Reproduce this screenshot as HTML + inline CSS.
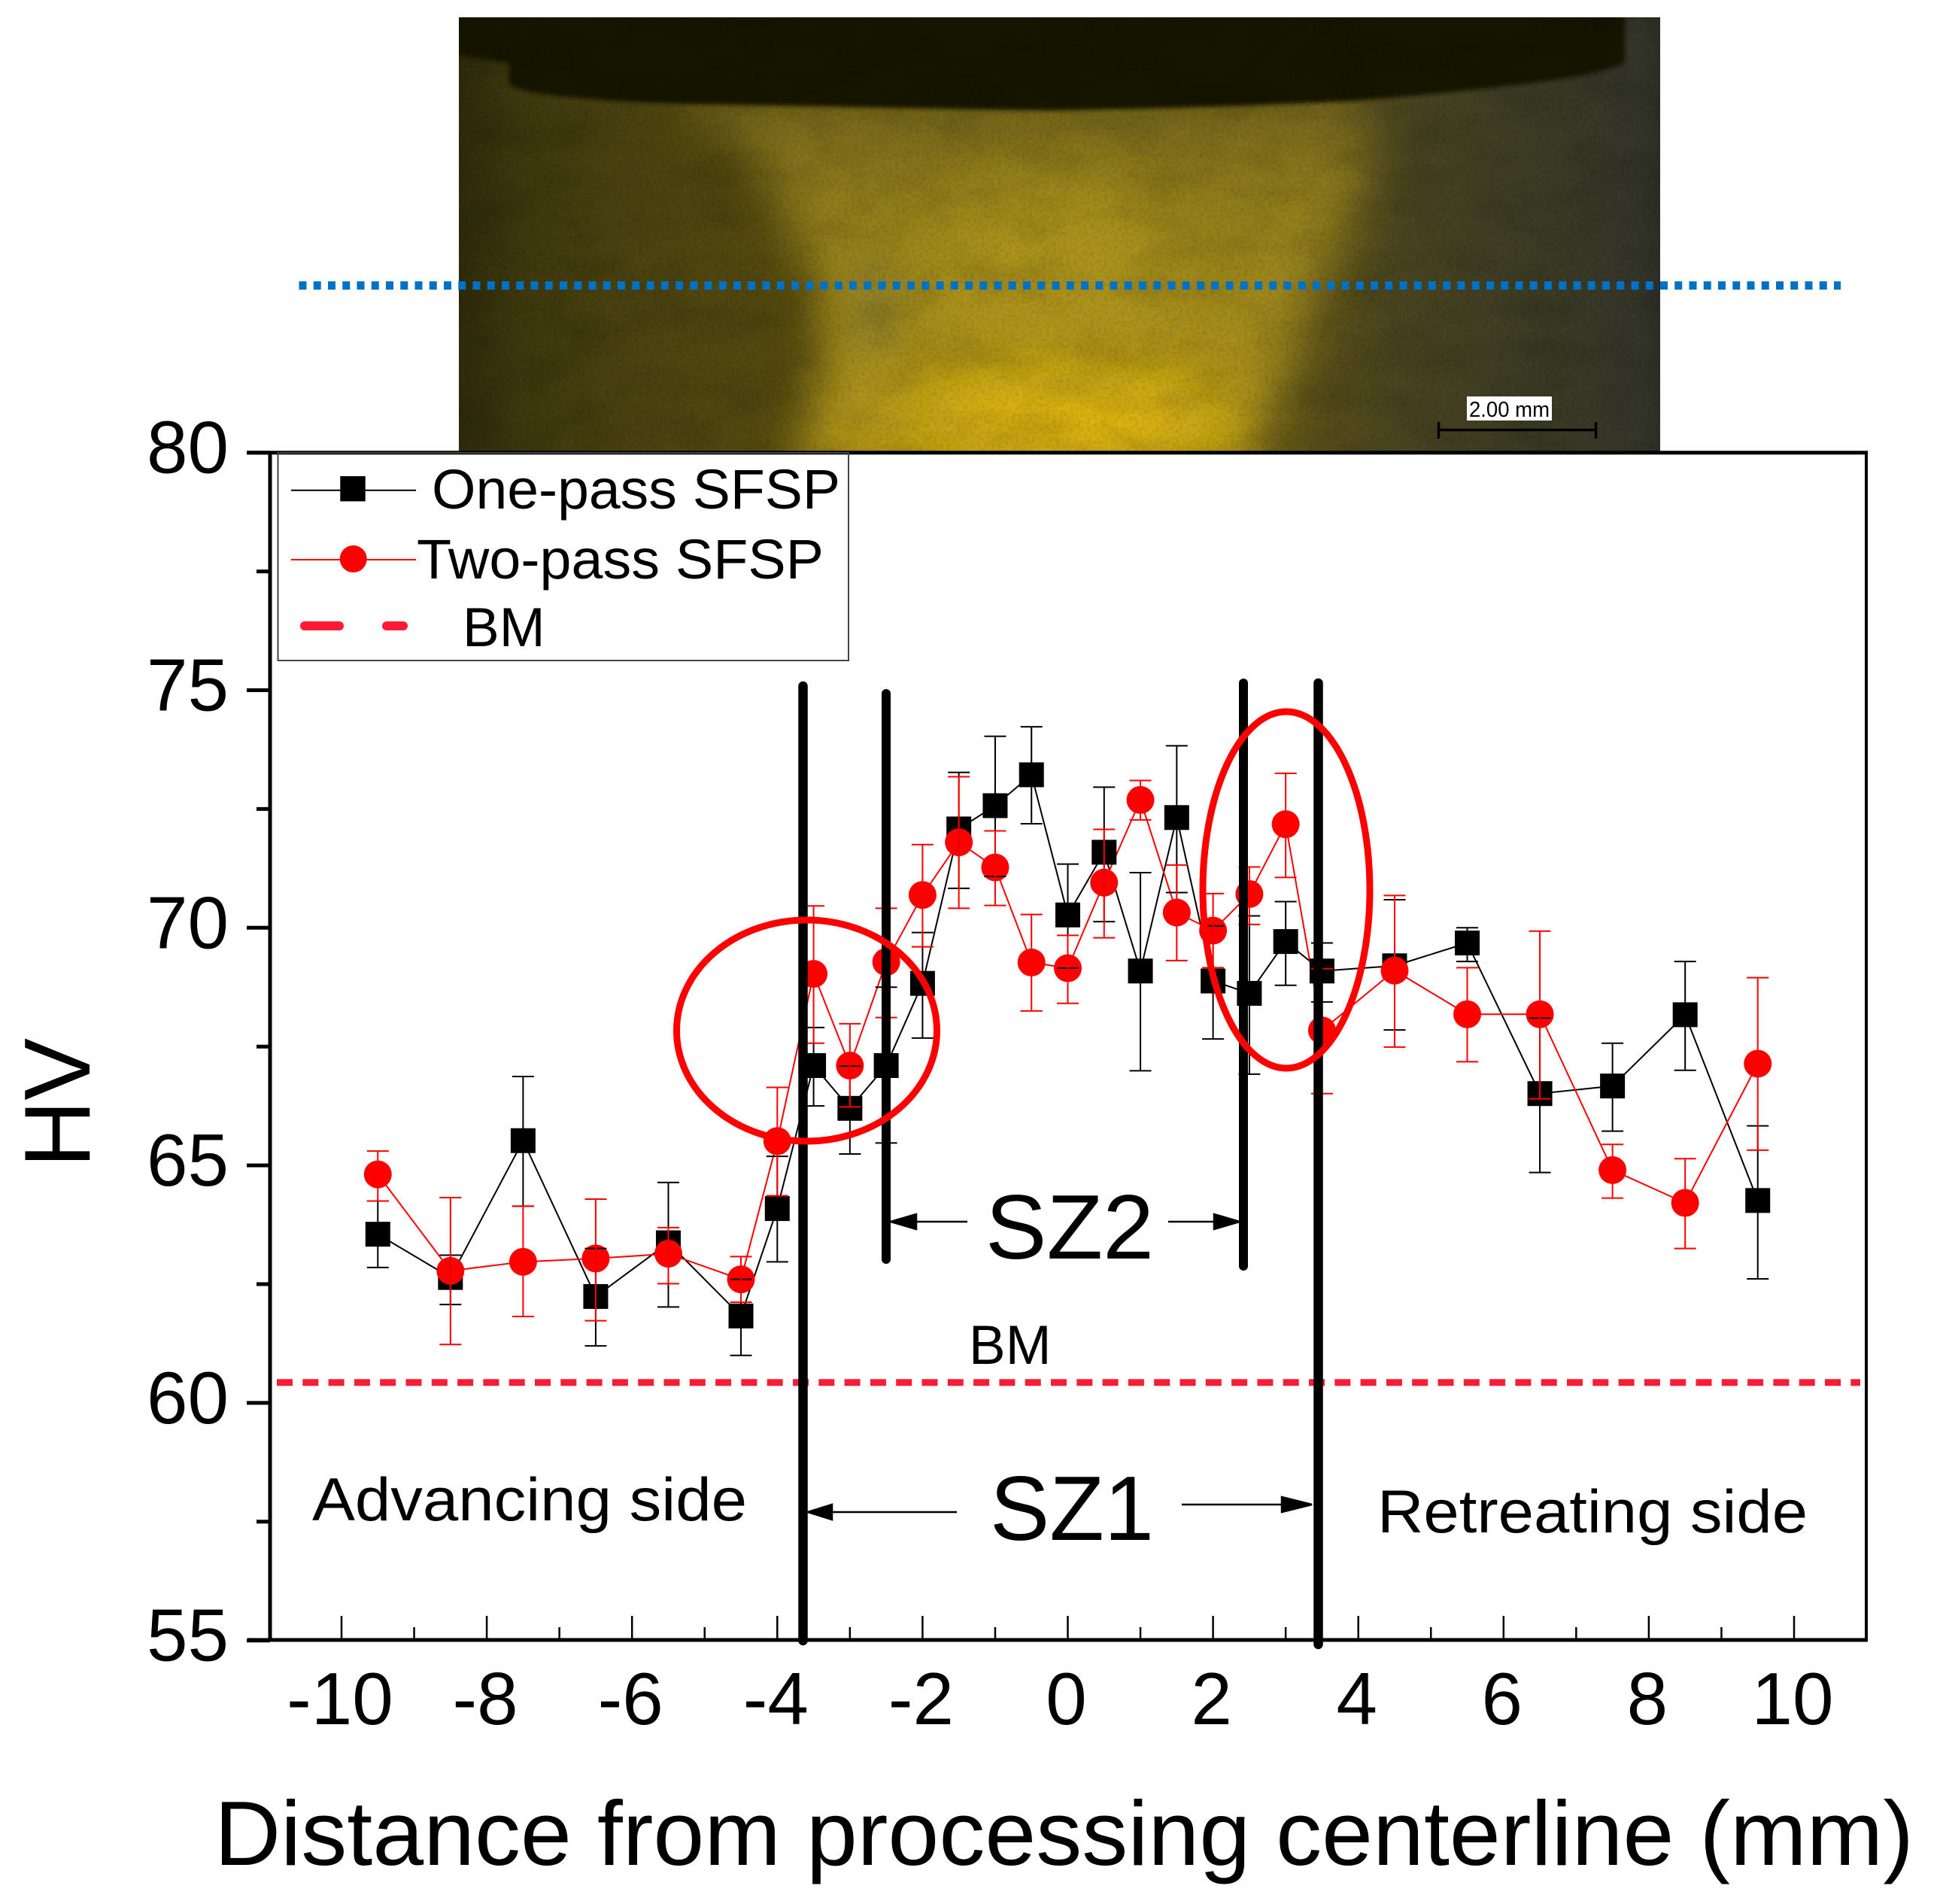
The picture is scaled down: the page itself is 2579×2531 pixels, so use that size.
<!DOCTYPE html>
<html lang="en">
<head>
<meta charset="utf-8">
<title>Hardness profile across processing centerline</title>
<style>
  html, body { margin: 0; padding: 0; background: #fff; }
  body { width: 2579px; height: 2531px; overflow: hidden; }
  svg { display: block; }
  text { font-family: "Liberation Sans", Arial, sans-serif; fill: #000; }
</style>
</head>
<body>
<svg id="chart" xmlns="http://www.w3.org/2000/svg" width="2579" height="2531" viewBox="0 0 2579 2531">
  <defs>
    <linearGradient id="photoBase" x1="0" y1="0" x2="1" y2="0">
      <stop offset="0" stop-color="#2f2c0c"/>
      <stop offset="0.05" stop-color="#3d380e"/>
      <stop offset="0.15" stop-color="#4c4410"/>
      <stop offset="0.27" stop-color="#544a10"/>
      <stop offset="0.5" stop-color="#5e5212"/>
      <stop offset="0.72" stop-color="#574e1a"/>
      <stop offset="0.78" stop-color="#4a4520"/>
      <stop offset="0.88" stop-color="#3e3d24"/>
      <stop offset="0.98" stop-color="#35362a"/>
      <stop offset="1" stop-color="#2e3028"/>
    </linearGradient>
    <linearGradient id="zoneFill" x1="0" y1="0" x2="0" y2="1">
      <stop offset="0" stop-color="#75661a"/>
      <stop offset="0.3" stop-color="#94801a"/>
      <stop offset="0.65" stop-color="#a88f1c"/>
      <stop offset="1" stop-color="#b89a18"/>
    </linearGradient>
    <filter id="blur30" x="-20%" y="-30%" width="140%" height="160%"><feGaussianBlur stdDeviation="32"/></filter>
    <filter id="blur18" x="-60%" y="-60%" width="220%" height="220%"><feGaussianBlur stdDeviation="18"/></filter>
    <filter id="blur40" x="-40%" y="-60%" width="180%" height="220%"><feGaussianBlur stdDeviation="40"/></filter>
    <filter id="blur2" x="-5%" y="-5%" width="110%" height="110%"><feGaussianBlur stdDeviation="3"/></filter>
    <filter id="grain" x="0" y="0" width="100%" height="100%">
      <feTurbulence type="fractalNoise" baseFrequency="0.22" numOctaves="3" seed="4"/>
      <feColorMatrix type="matrix" values="0 0 0 0 0  0 0 0 0 0  0 0 0 0 0  1.6 0 0 0 -0.62"/>
    </filter>
    <filter id="mottle" x="0" y="0" width="100%" height="100%">
      <feTurbulence type="fractalNoise" baseFrequency="0.012 0.02" numOctaves="3" seed="11"/>
      <feColorMatrix type="matrix" values="0 0 0 0 0  0 0 0 0 0  0 0 0 0 0  2.4 0 0 0 -0.95"/>
    </filter>
    <clipPath id="photoClip"><rect x="610" y="23" width="1597" height="578"/></clipPath>
  </defs>

  <g clip-path="url(#photoClip)">
    <rect x="610" y="23" width="1597" height="578" fill="url(#photoBase)"/>
    <path filter="url(#blur30)" fill="url(#zoneFill)" d="M880 130 L1810 130 L1815 260 L1740 400 L1660 640 L1060 640 L1100 440 L1065 320 L1000 200 Z"/>
    <ellipse filter="url(#blur40)" cx="1400" cy="370" rx="160" ry="130" fill="#b0961e" opacity="0.8"/>
    <ellipse filter="url(#blur18)" cx="1165" cy="410" rx="34" ry="70" fill="#7c7630" opacity="0.45"/>
    <ellipse filter="url(#blur40)" cx="1420" cy="555" rx="210" ry="55" fill="#e2b810"/>
    <path filter="url(#blur2)" fill="#171200" d="M600 15 L600 72 L640 78 L677 84 L677 113 Q700 124 755 129 Q830 136 910 138 L1395 147 L1530 144 Q1680 140 1798 134 Q1950 122 2046 109 Q2130 98 2160 84 L2160 15 Z"/>
    <rect x="610" y="23" width="1597" height="578" filter="url(#mottle)" opacity="0.09"/>
    <rect x="610" y="23" width="1597" height="578" filter="url(#grain)" opacity="0.13"/>
  </g>
  <line x1="397.5" y1="379.5" x2="2447" y2="379.5" stroke="#0072c6" stroke-width="11" stroke-dasharray="10 9.25"/>

  <g>
    <rect x="1950" y="527" width="113" height="32" fill="#fff"/>
    <text x="1953" y="554" font-size="29" textLength="107" lengthAdjust="spacingAndGlyphs">2.00 mm</text>
    <path d="M1912 571.5 H2122 M1912.5 561 V583 M2121.5 561 V583" stroke="#000" stroke-width="3.5" fill="none"/>
  </g>

  <g id="axes"></g>
  <g id="plot"></g>

  <g>
    <line x1="1067.5" y1="912" x2="1067.5" y2="2181" stroke="#000" stroke-width="12.5" stroke-linecap="round"/>
    <line x1="1178" y1="922" x2="1178" y2="1674" stroke="#000" stroke-width="12" stroke-linecap="round"/>
    <line x1="1653" y1="908" x2="1653" y2="1683" stroke="#000" stroke-width="12" stroke-linecap="round"/>
    <line x1="1752.5" y1="908" x2="1752.5" y2="2186" stroke="#000" stroke-width="12.5" stroke-linecap="round"/>

    <ellipse cx="1072.5" cy="1370" rx="173" ry="147" fill="none" stroke="#f00" stroke-width="9"/>
    <ellipse cx="1710" cy="1183" rx="111" ry="237" fill="none" stroke="#f00" stroke-width="9"/>

    <path d="M1286 1624 H1210 M1184 1624 L1218 1614 V1634 Z" stroke="#000" stroke-width="2.5" fill="#000"/>
    <path d="M1553 1624 H1620 M1648 1624 L1614 1614 V1634 Z" stroke="#000" stroke-width="2.5" fill="#000"/>
    <path d="M1272 2010 H1100 M1074 2010 L1106 2000 V2020 Z" stroke="#000" stroke-width="2.5" fill="#000"/>
    <path d="M1571 2000 H1720 M1744 2000 L1704 1990 V2010 Z" stroke="#000" stroke-width="2.5" fill="#000"/>

    <text x="1310" y="1673" font-size="122" textLength="224" lengthAdjust="spacingAndGlyphs">SZ2</text>
    <text x="1316" y="2047" font-size="122" textLength="218" lengthAdjust="spacingAndGlyphs">SZ1</text>
    <text x="1288" y="1813" font-size="73">BM</text>
    <text x="415" y="2021" font-size="81" textLength="578" lengthAdjust="spacingAndGlyphs">Advancing side</text>
    <text x="1831" y="2037" font-size="81" textLength="572" lengthAdjust="spacingAndGlyphs">Retreating side</text>
  </g>

  <g>
    <rect x="369.5" y="602" width="758.5" height="276" fill="none" stroke="#444" stroke-width="2"/>
    <g>
      <line x1="387" y1="651.7" x2="553" y2="651.7" stroke="#000" stroke-width="2"/>
      <rect x="452.3" y="633" width="33.4" height="33.4" fill="#000"/>
      <text x="574" y="676" font-size="74" textLength="543" lengthAdjust="spacingAndGlyphs">One-pass SFSP</text>
    </g>
    <g>
      <line x1="387" y1="744" x2="553" y2="744" stroke="#f00" stroke-width="2"/>
      <circle cx="469.7" cy="743" r="18" fill="#f00"/>
      <text x="554" y="769" font-size="74" textLength="541" lengthAdjust="spacingAndGlyphs">Two-pass SFSP</text>
    </g>
    <g>
      <line x1="405" y1="832" x2="451" y2="832" stroke="#ff1a33" stroke-width="12" stroke-linecap="round"/>
      <line x1="514" y1="832" x2="536" y2="832" stroke="#ff1a33" stroke-width="12" stroke-linecap="round"/>
      <text x="615" y="859" font-size="73">BM</text>
    </g>
  </g>

  <text transform="translate(119 1466) rotate(-90)" text-anchor="middle" font-size="124">HV</text>
  <text x="285" y="2479" font-size="122" textLength="2259" lengthAdjust="spacingAndGlyphs">Distance from processing centerline (mm)</text>
</svg>

<script>
const distances = [-9.5,-8.5,-7.5,-6.5,-5.5,-4.5,-4,-3.5,-3,-2.5,-2,-1.5,-1,-0.5,0,0.5,1,1.5,2,2.5,3,3.5,4.5,5.5,6.5,7.5,8.5,9.5];

const onePassValues = [63.55,62.64,65.52,62.24,63.37,61.83,64.09,67.10,66.20,67.10,68.83,72.08,72.57,73.22,70.27,71.59,69.09,72.32,68.88,68.62,69.71,69.09,69.20,69.68,66.51,66.67,68.17,64.26];
const onePassUpper = [64.25,63.11,66.87,63.25,64.64,62.60,65.19,67.90,67.09,68.75,69.90,73.27,74.03,74.23,71.34,72.96,71.16,73.83,70.04,70.25,70.55,69.68,70.59,70.00,68.10,67.57,69.29,65.83];
const onePassLower = [62.85,62.07,64.14,61.20,62.02,61.00,62.97,66.25,65.24,65.47,67.68,70.83,71.08,72.19,69.15,70.13,66.99,70.74,67.66,66.92,68.79,68.44,67.85,69.29,64.85,65.72,67.00,62.61];

const twoPassValues = [64.81,62.78,62.97,63.04,63.14,62.60,65.51,69.03,67.10,69.28,70.69,71.80,71.27,69.27,69.15,70.95,72.69,70.32,69.94,70.71,72.18,67.84,69.10,68.18,68.18,64.90,64.21,67.14];
const twoPassUpper = [65.30,64.32,64.14,64.29,63.69,63.08,66.64,70.46,67.98,70.41,71.75,73.18,72.04,70.28,69.84,72.07,73.10,71.32,70.72,71.28,73.25,69.14,70.68,69.16,69.93,65.44,65.14,68.95];
const twoPassLower = [64.25,61.23,61.82,61.73,62.51,62.12,64.36,67.57,66.23,68.11,69.60,70.41,70.47,68.25,68.41,69.79,72.27,69.31,69.16,70.07,71.06,66.51,67.49,67.18,66.40,64.31,63.25,65.32];

const baseMetalLevel = [60.43];

const xMajorTicks = [-10,-8,-6,-4,-2,0,2,4,6,8,10];
const xMinorTicks = [-9,-7,-5,-3,-1,1,3,5,7,9];
const yMajorTicks = [55,60,65,70,75,80];
const yMinorTicks = [57.5,62.5,67.5,72.5,77.5];

const xScale = function (d) { return 1419.5 + d * 96.55; };
const yScale = function (v) { return 601.7 + (80 - v) * 63.16; };

const SVGNS = 'http://www.w3.org/2000/svg';
function make(parent, tag, attrs, content) {
  const node = document.createElementNS(SVGNS, tag);
  for (const key in attrs) node.setAttribute(key, attrs[key]);
  if (content !== undefined) node.textContent = content;
  parent.appendChild(node);
  return node;
}

const axes = document.getElementById('axes');
const plot = document.getElementById('plot');

/* axis frame */
let frame = make(axes, 'line', {x1: 329, y1: 601.7, x2: 2483, y2: 601.7, stroke: '#000', 'stroke-width': 5});


frame = make(axes, 'line', {x1: 329, y1: 2180, x2: 2483, y2: 2180, stroke: '#000', 'stroke-width': 5});


frame = make(axes, 'line', {x1: 359, y1: 600, x2: 359, y2: 2182, stroke: '#000', 'stroke-width': 5});


frame = make(axes, 'line', {x1: 2481, y1: 600, x2: 2481, y2: 2182, stroke: '#000', 'stroke-width': 4});



/* y ticks */
yMajorTicks.forEach(function (v) {
  const tick = make(axes, 'line', {x1: 328, y1: yScale(v), x2: 359, y2: yScale(v), stroke: '#000', 'stroke-width': 5});
  
  
  const label = make(axes, 'text', {x: 304, y: yScale(v) + 27, 'text-anchor': 'end', 'font-size': 98}, String(v));
  
  
});
yMinorTicks.forEach(function (v) {
  const tick = make(axes, 'line', {x1: 341, y1: yScale(v), x2: 359, y2: yScale(v), stroke: '#000', 'stroke-width': 5});
  
  
});

/* x ticks */
xMajorTicks.forEach(function (d) {
  const tick = make(axes, 'line', {x1: xScale(d), y1: 2180, x2: xScale(d), y2: 2148, stroke: '#000', 'stroke-width': 2.5});
  
  
  const label = make(axes, 'text', {x: xScale(d) - 2, y: 2292, 'text-anchor': 'middle', 'font-size': 98}, String(d));
  
  
});
xMinorTicks.forEach(function (d) {
  const tick = make(axes, 'line', {x1: xScale(d), y1: 2180, x2: xScale(d), y2: 2163, stroke: '#000', 'stroke-width': 2.5});
  
  
});

/* base metal reference */
const bmLine = make(plot, 'line', {x1: 368, y1: yScale(baseMetalLevel[0]), x2: 2473, y2: yScale(baseMetalLevel[0]), stroke: '#f81c35', 'stroke-width': 9, 'stroke-dasharray': '21 13.3'});



/* connecting lines */
function polyPoints(values) {
  return values.map(function (v, i) { return xScale(distances[i]) + ',' + yScale(v); }).join(' ');
}
const lineOne = make(plot, 'polyline', {points: polyPoints(onePassValues), fill: 'none', stroke: '#000', 'stroke-width': 2});


const lineTwo = make(plot, 'polyline', {points: polyPoints(twoPassValues), fill: 'none', stroke: '#f00', 'stroke-width': 2});



/* markers */
onePassValues.forEach(function (v, i) {
  const marker = make(plot, 'rect', {x: xScale(distances[i]) - 16.5, y: yScale(v) - 16.5, width: 33, height: 33, fill: '#000'});
  
  
});
twoPassValues.forEach(function (v, i) {
  const marker = make(plot, 'circle', {cx: xScale(distances[i]), cy: yScale(v), r: 18.5, fill: '#f00'});
  
  
});

/* error bars */
function errorPath(i, upper, lower) {
  const x = xScale(distances[i]);
  const t = yScale(upper[i]);
  const b = yScale(lower[i]);
  return 'M' + (x - 14.5) + ' ' + t + 'H' + (x + 14.5) + 'M' + x + ' ' + t + 'V' + b + 'M' + (x - 14.5) + ' ' + b + 'H' + (x + 14.5);
}
distances.forEach(function (d, i) {
  const bar = make(plot, 'path', {d: errorPath(i, onePassUpper, onePassLower), fill: 'none', stroke: '#000', 'stroke-width': 2});
  
  
});
distances.forEach(function (d, i) {
  const bar = make(plot, 'path', {d: errorPath(i, twoPassUpper, twoPassLower), fill: 'none', stroke: '#f00', 'stroke-width': 2});
  
  
});
</script>
</body>
</html>
